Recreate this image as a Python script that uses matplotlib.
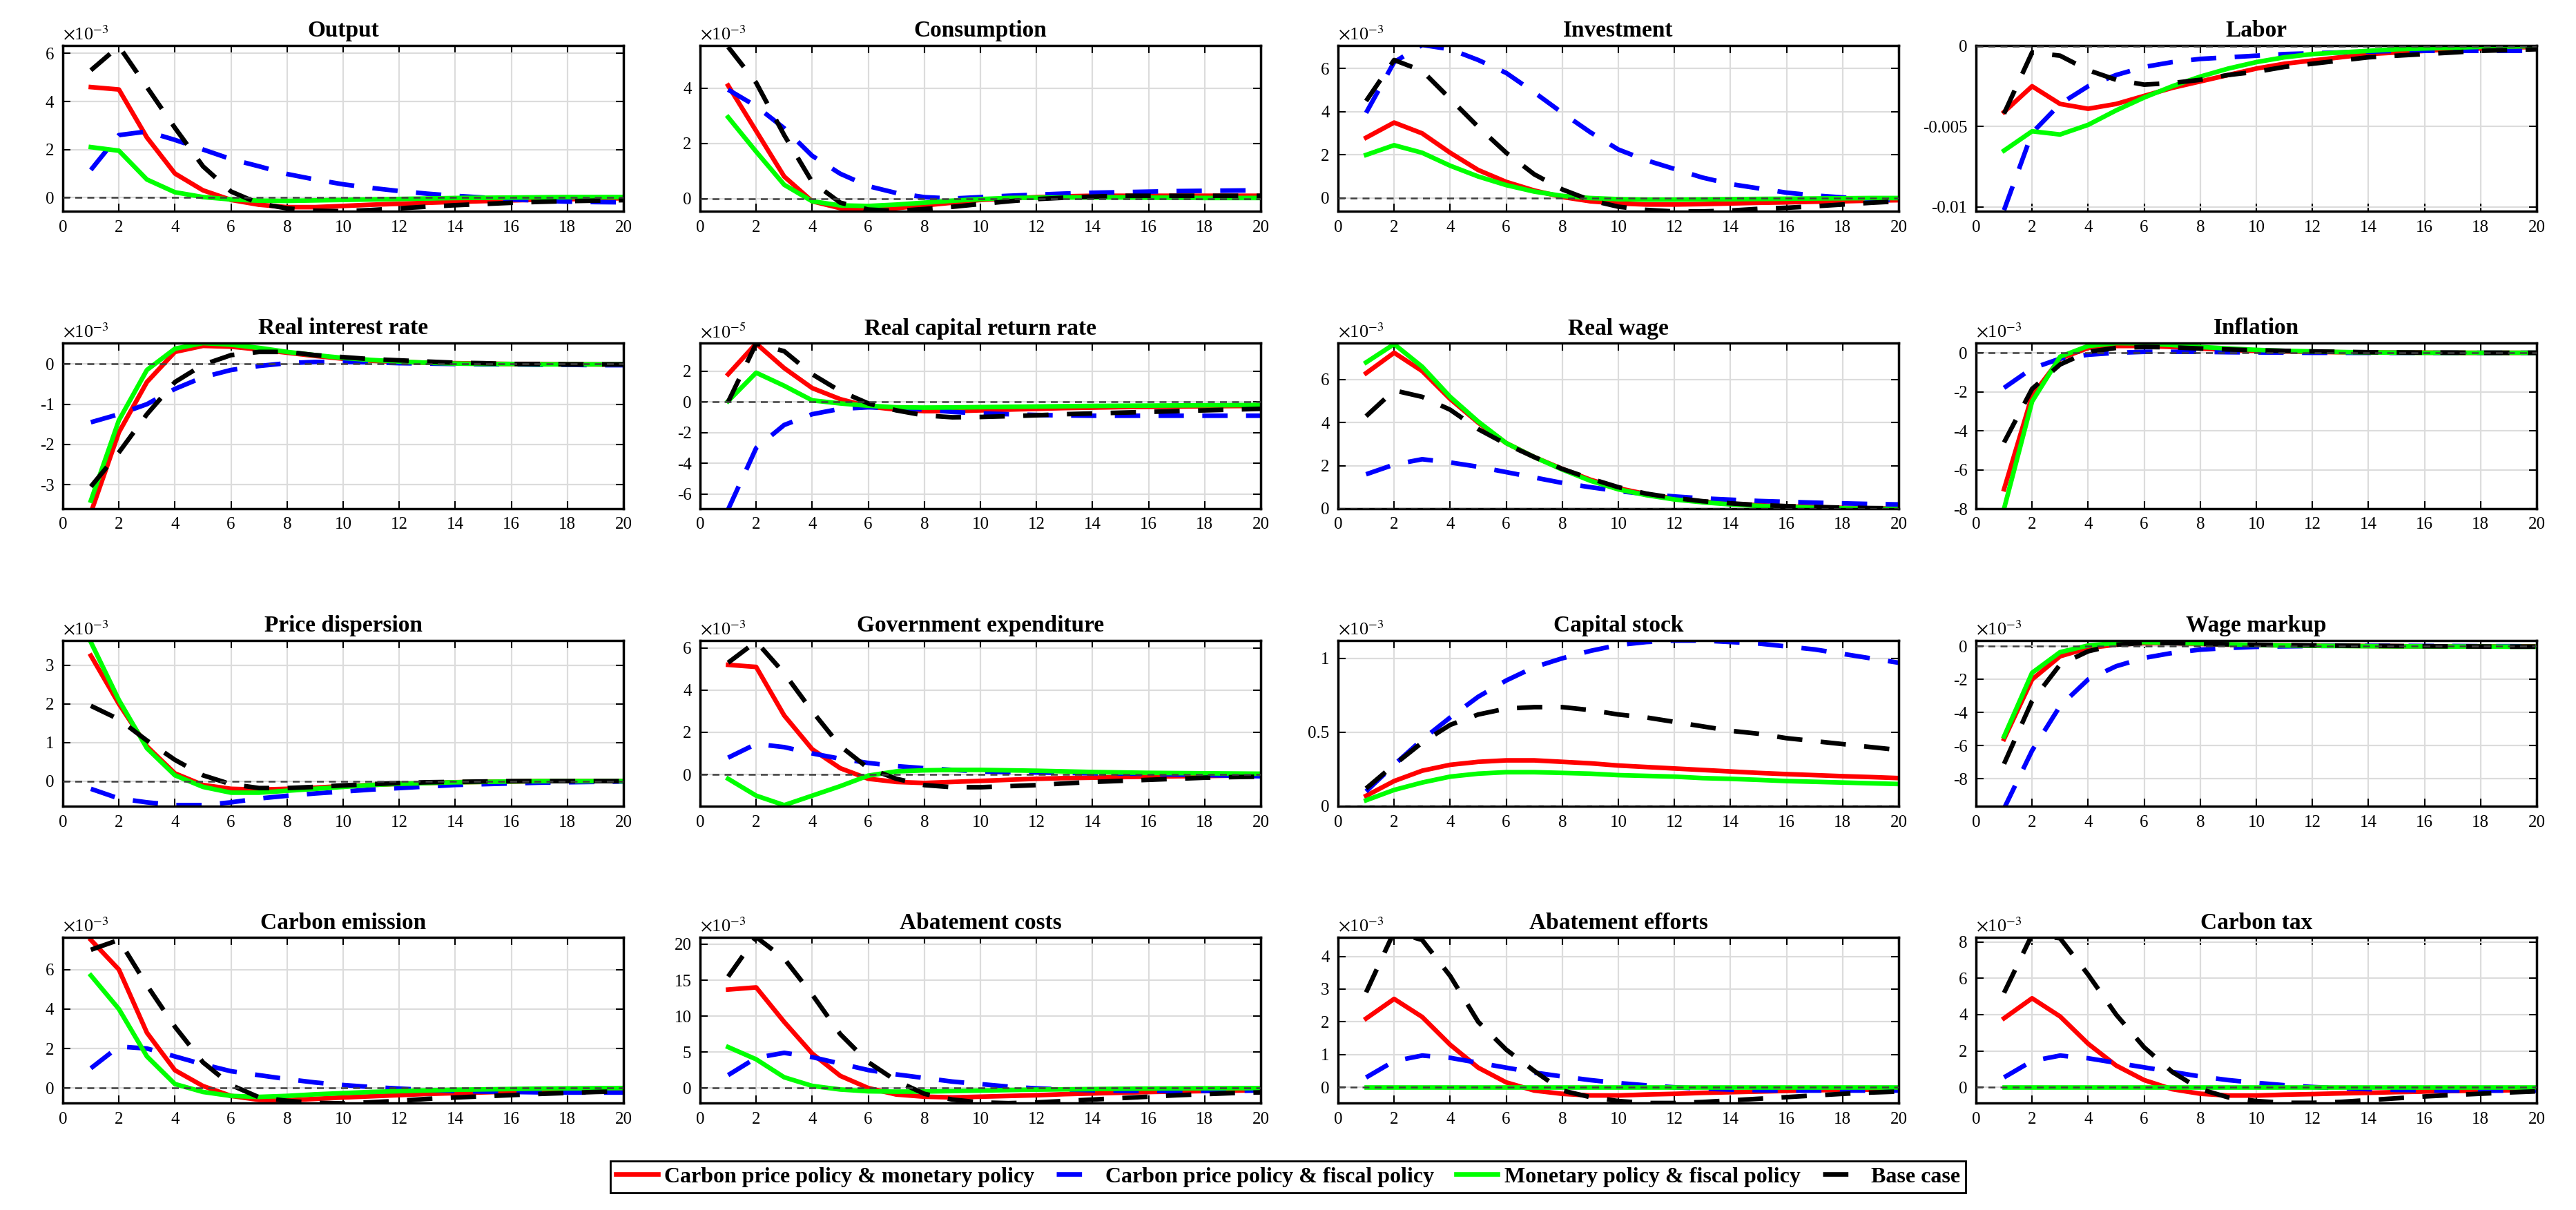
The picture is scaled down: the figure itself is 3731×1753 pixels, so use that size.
import matplotlib
matplotlib.use('Agg')
import matplotlib.pyplot as plt
from matplotlib.ticker import FuncFormatter, FixedLocator

plt.rcParams['font.family'] = ['Liberation Serif', 'DejaVu Serif']
plt.rcParams['mathtext.fontset'] = 'stix'
plt.rcParams['axes.unicode_minus'] = False

# ---------------- data ----------------
periods = list(range(1, 21))
series_names = ['Carbon price policy & monetary policy',
                'Carbon price policy & fiscal policy',
                'Monetary policy & fiscal policy',
                'Base case']

titles = ['Output', 'Consumption', 'Investment', 'Labor',
          'Real interest rate', 'Real capital return rate', 'Real wage', 'Inflation',
          'Price dispersion', 'Government expenditure', 'Capital stock', 'Wage markup',
          'Carbon emission', 'Abatement costs', 'Abatement efforts', 'Carbon tax']

# multiplier shown above each panel (None = no multiplier)
multipliers = ['-3', '-3', '-3', None,
               '-3', '-5', '-3', '-3',
               '-3', '-3', '-3', '-3',
               '-3', '-3', '-3', '-3']

y_limits = [(-0.57, 6.33), (-0.46, 5.55), (-0.61, 7.07), (-0.01027, 0.00003),
            (-3.6, 0.52), (-6.95, 3.83), (0, 7.7), (-8.0, 0.5),
            (-0.65, 3.64), (-1.5, 6.35), (0, 1.12), (-9.66, 0.35),
            (-0.76, 7.63), (-2.08, 20.96), (-0.48, 4.58), (-0.86, 8.25)]

y_ticks = [[0, 2, 4, 6], [0, 2, 4], [0, 2, 4, 6], [-0.01, -0.005, 0],
           [-3, -2, -1, 0], [-6, -4, -2, 0, 2], [0, 2, 4, 6], [-8, -6, -4, -2, 0],
           [0, 1, 2, 3], [0, 2, 4, 6], [0, 0.5, 1], [-8, -6, -4, -2, 0],
           [0, 2, 4, 6], [0, 5, 10, 15, 20], [0, 1, 2, 3, 4], [0, 2, 4, 6, 8]]

# Output (x1e-3)
output_cpm = [4.6, 4.5, 2.5, 1.0, 0.3, -0.1, -0.3, -0.4, -0.4, -0.35, -0.3, -0.26, -0.22, -0.18, -0.15, -0.12, -0.09, -0.07, -0.05, -0.03]
output_cpf = [1.15, 2.6, 2.75, 2.4, 2.0, 1.6, 1.3, 0.98, 0.75, 0.55, 0.4, 0.27, 0.16, 0.07, 0.0, -0.08, -0.13, -0.17, -0.19, -0.2]
output_mf = [2.1, 1.95, 0.75, 0.22, 0.02, -0.08, -0.13, -0.14, -0.12, -0.1, -0.08, -0.06, -0.04, -0.02, -0.01, 0.0, 0.01, 0.02, 0.02, 0.02]
output_base = [5.3, 6.3, 4.6, 2.9, 1.3, 0.25, -0.25, -0.45, -0.55, -0.57, -0.52, -0.45, -0.38, -0.32, -0.27, -0.22, -0.18, -0.15, -0.13, -0.11]

# Consumption (x1e-3)
cons_cpm = [4.1, 2.45, 0.8, -0.1, -0.35, -0.4, -0.35, -0.25, -0.15, -0.05, 0.0, 0.05, 0.08, 0.1, 0.1, 0.1, 0.1, 0.1, 0.1, 0.1]
cons_cpf = [3.95, 3.35, 2.55, 1.55, 0.9, 0.45, 0.2, 0.05, 0.0, 0.05, 0.1, 0.14, 0.18, 0.21, 0.23, 0.25, 0.27, 0.28, 0.29, 0.3]
cons_mf = [2.95, 1.7, 0.5, -0.1, -0.25, -0.27, -0.22, -0.15, -0.08, -0.02, 0.02, 0.03, 0.04, 0.04, 0.04, 0.03, 0.03, 0.02, 0.02, 0.02]
cons_base = [5.5, 4.2, 2.3, 0.6, -0.15, -0.4, -0.45, -0.38, -0.3, -0.2, -0.1, -0.02, 0.03, 0.07, 0.1, 0.1, 0.1, 0.1, 0.1, 0.1]

# Investment (x1e-3)
inv_cpm = [2.8, 3.5, 3.0, 2.1, 1.3, 0.75, 0.35, 0.05, -0.15, -0.25, -0.3, -0.3, -0.28, -0.25, -0.22, -0.2, -0.17, -0.15, -0.12, -0.1]
inv_cpf = [3.95, 6.3, 7.1, 6.9, 6.4, 5.8, 4.9, 3.95, 3.05, 2.25, 1.75, 1.35, 0.95, 0.65, 0.45, 0.25, 0.12, 0.03, -0.05, -0.1]
inv_mf = [2.0, 2.45, 2.1, 1.5, 1.0, 0.6, 0.3, 0.1, 0.0, -0.05, -0.07, -0.07, -0.06, -0.05, -0.04, -0.03, -0.02, -0.01, 0.0, 0.0]
inv_base = [4.5, 6.4, 5.9, 4.6, 3.3, 2.1, 1.1, 0.4, -0.1, -0.4, -0.55, -0.62, -0.62, -0.58, -0.5, -0.45, -0.38, -0.3, -0.22, -0.15]

# Labor (levels)
labor_cpm = [-0.0041, -0.0025, -0.0036, -0.0039, -0.0036, -0.0031, -0.0026, -0.0022, -0.0018, -0.0014, -0.0011, -0.0009, -0.0007, -0.0005, -0.0004, -0.0003, -0.0002, -0.00015, -0.0001, -0.00005]
labor_cpf = [-0.0102, -0.0054, -0.0036, -0.0025, -0.0018, -0.0013, -0.0010, -0.0008, -0.0007, -0.0006, -0.0005, -0.00045, -0.0004, -0.00035, -0.0003, -0.0003, -0.0003, -0.0003, -0.0003, -0.0003]
labor_mf = [-0.0065, -0.0053, -0.0055, -0.0049, -0.0040, -0.0032, -0.0025, -0.0019, -0.0014, -0.0010, -0.0007, -0.0005, -0.0004, -0.0003, -0.0002, -0.00015, -0.0001, -0.00005, -0.00003, 0.0]
labor_base = [-0.0042, -0.0004, -0.0006, -0.0015, -0.0021, -0.0024, -0.0023, -0.0021, -0.0018, -0.0016, -0.0013, -0.0011, -0.0009, -0.0007, -0.0006, -0.0005, -0.0004, -0.0003, -0.00025, -0.0002]

# Real interest rate (x1e-3)
rir_cpm = [-3.7, -1.7, -0.45, 0.3, 0.45, 0.43, 0.36, 0.28, 0.2, 0.13, 0.08, 0.05, 0.03, 0.02, 0.01, 0.0, 0.0, -0.01, -0.01, -0.02]
rir_cpf = [-1.45, -1.25, -1.0, -0.62, -0.33, -0.15, -0.05, 0.02, 0.05, 0.05, 0.04, 0.02, 0.01, 0.0, -0.01, -0.01, -0.02, -0.02, -0.03, -0.03]
rir_mf = [-3.4, -1.4, -0.15, 0.38, 0.52, 0.48, 0.4, 0.3, 0.22, 0.15, 0.1, 0.06, 0.03, 0.01, 0.0, 0.0, -0.01, -0.01, -0.01, -0.01]
rir_base = [-3.05, -2.2, -1.25, -0.45, -0.02, 0.22, 0.3, 0.3, 0.22, 0.17, 0.12, 0.09, 0.06, 0.03, 0.02, 0.0, 0.0, -0.01, -0.01, -0.01]

# Real capital return rate (x1e-5)
rk_cpm = [1.8, 3.8, 2.2, 0.9, 0.18, -0.3, -0.5, -0.6, -0.6, -0.55, -0.5, -0.45, -0.4, -0.37, -0.34, -0.32, -0.3, -0.28, -0.27, -0.26]
rk_cpf = [-7.0, -3.0, -1.5, -0.8, -0.45, -0.35, -0.4, -0.5, -0.65, -0.75, -0.8, -0.85, -0.88, -0.9, -0.9, -0.9, -0.9, -0.9, -0.9, -0.9]
rk_mf = [0.05, 1.9, 1.05, 0.1, -0.1, -0.25, -0.35, -0.37, -0.36, -0.34, -0.32, -0.3, -0.28, -0.26, -0.25, -0.24, -0.23, -0.22, -0.21, -0.2]
rk_base = [0.0, 3.8, 3.3, 1.8, 0.7, -0.1, -0.55, -0.88, -1.0, -0.98, -0.93, -0.87, -0.8, -0.75, -0.7, -0.65, -0.6, -0.55, -0.5, -0.45]

# Real wage (x1e-3)
wage_cpm = [6.3, 7.25, 6.4, 5.1, 4.0, 3.05, 2.4, 1.85, 1.35, 0.95, 0.68, 0.47, 0.33, 0.23, 0.16, 0.11, 0.07, 0.04, 0.02, 0.01]
wage_cpf = [1.6, 2.05, 2.3, 2.15, 1.95, 1.7, 1.45, 1.2, 1.0, 0.82, 0.68, 0.57, 0.48, 0.42, 0.36, 0.32, 0.28, 0.25, 0.22, 0.2]
wage_mf = [6.8, 7.65, 6.6, 5.2, 4.05, 3.05, 2.4, 1.82, 1.3, 0.9, 0.63, 0.43, 0.3, 0.2, 0.13, 0.08, 0.04, 0.02, 0.0, -0.02]
wage_base = [4.3, 5.5, 5.2, 4.6, 3.7, 3.0, 2.4, 1.85, 1.4, 1.0, 0.7, 0.5, 0.35, 0.25, 0.17, 0.12, 0.08, 0.05, 0.03, 0.02]

# Inflation (x1e-3)
infl_cpm = [-7.0, -2.2, -0.3, 0.25, 0.35, 0.35, 0.3, 0.22, 0.15, 0.1, 0.07, 0.05, 0.03, 0.02, 0.01, 0.01, 0.0, 0.0, 0.0, 0.0]
infl_cpf = [-1.8, -0.8, -0.3, -0.1, 0.0, 0.05, 0.05, 0.05, 0.03, 0.02, 0.01, 0.0, 0.0, 0.0, 0.0, 0.0, 0.0, 0.0, 0.0, 0.0]
infl_mf = [-8.0, -2.5, -0.2, 0.35, 0.5, 0.48, 0.4, 0.3, 0.22, 0.15, 0.1, 0.07, 0.04, 0.02, 0.01, 0.0, 0.0, 0.0, 0.0, 0.0]
infl_base = [-4.6, -1.85, -0.6, 0.05, 0.25, 0.3, 0.28, 0.22, 0.17, 0.13, 0.1, 0.07, 0.05, 0.03, 0.02, 0.01, 0.01, 0.0, 0.0, 0.0]

# Price dispersion (x1e-3)
pd_cpm = [3.25, 2.0, 0.9, 0.2, -0.1, -0.2, -0.22, -0.2, -0.17, -0.13, -0.1, -0.07, -0.05, -0.03, -0.02, -0.01, 0.0, 0.0, 0.0, 0.0]
pd_cpf = [-0.2, -0.45, -0.55, -0.62, -0.62, -0.55, -0.45, -0.38, -0.32, -0.27, -0.22, -0.18, -0.14, -0.1, -0.08, -0.06, -0.04, -0.03, -0.02, -0.01]
pd_mf = [3.6, 2.1, 0.85, 0.15, -0.15, -0.3, -0.3, -0.25, -0.2, -0.15, -0.1, -0.07, -0.05, -0.03, -0.02, -0.01, 0.0, 0.0, 0.0, 0.0]
pd_base = [1.95, 1.6, 1.05, 0.55, 0.15, -0.08, -0.18, -0.18, -0.15, -0.11, -0.08, -0.05, -0.03, -0.02, -0.01, 0.0, 0.0, 0.0, 0.0, 0.0]

# Government expenditure (x1e-3)
gov_cpm = [5.2, 5.1, 2.8, 1.2, 0.3, -0.2, -0.35, -0.4, -0.35, -0.3, -0.25, -0.2, -0.17, -0.15, -0.12, -0.1, -0.08, -0.07, -0.05, -0.04]
gov_cpf = [0.8, 1.45, 1.3, 1.0, 0.75, 0.55, 0.4, 0.3, 0.22, 0.15, 0.12, 0.1, 0.08, 0.06, 0.05, 0.03, 0.0, -0.03, -0.05, -0.08]
gov_mf = [-0.2, -1.0, -1.45, -1.0, -0.55, -0.05, 0.15, 0.2, 0.22, 0.22, 0.2, 0.18, 0.15, 0.12, 0.1, 0.08, 0.07, 0.06, 0.05, 0.04]
gov_base = [5.3, 6.3, 4.8, 3.0, 1.35, 0.3, -0.2, -0.5, -0.6, -0.6, -0.55, -0.5, -0.42, -0.35, -0.3, -0.25, -0.2, -0.15, -0.12, -0.1]

# Capital stock (x1e-3)
cap_cpm = [0.07, 0.17, 0.24, 0.28, 0.3, 0.31, 0.31, 0.30, 0.29, 0.275, 0.265, 0.255, 0.245, 0.235, 0.225, 0.217, 0.21, 0.203, 0.197, 0.19]
cap_cpf = [0.1, 0.28, 0.45, 0.6, 0.74, 0.85, 0.94, 1.0, 1.05, 1.09, 1.11, 1.12, 1.12, 1.11, 1.1, 1.08, 1.06, 1.03, 1.0, 0.97]
cap_mf = [0.04, 0.11, 0.16, 0.2, 0.22, 0.23, 0.23, 0.225, 0.22, 0.21, 0.205, 0.2, 0.19, 0.185, 0.178, 0.17, 0.165, 0.16, 0.155, 0.15]
cap_base = [0.12, 0.28, 0.43, 0.55, 0.62, 0.66, 0.67, 0.67, 0.65, 0.62, 0.6, 0.57, 0.54, 0.51, 0.49, 0.46, 0.44, 0.42, 0.4, 0.38]

# Wage markup (x1e-3)
wm_cpm = [-5.6, -2.0, -0.6, -0.1, 0.1, 0.2, 0.2, 0.15, 0.1, 0.08, 0.06, 0.04, 0.03, 0.02, 0.01, 0.0, 0.0, 0.0, 0.0, 0.0]
wm_cpf = [-9.8, -6.3, -3.6, -2.0, -1.2, -0.7, -0.4, -0.2, -0.1, -0.03, 0.0, 0.02, 0.03, 0.03, 0.03, 0.02, 0.02, 0.01, 0.01, 0.0]
wm_mf = [-5.45, -1.6, -0.35, 0.05, 0.2, 0.25, 0.22, 0.17, 0.12, 0.08, 0.05, 0.03, 0.02, 0.01, 0.0, 0.0, -0.01, -0.01, -0.02, -0.02]
wm_base = [-7.1, -3.3, -1.1, -0.3, 0.1, 0.2, 0.2, 0.15, 0.12, 0.1, 0.08, 0.06, 0.04, 0.03, 0.02, 0.01, 0.0, -0.01, -0.02, -0.02]

# Carbon emission (x1e-3)
ce_cpm = [7.5, 6.0, 2.8, 0.9, 0.1, -0.4, -0.6, -0.62, -0.55, -0.48, -0.42, -0.36, -0.3, -0.26, -0.22, -0.18, -0.15, -0.13, -0.11, -0.1]
ce_cpf = [1.0, 2.1, 2.0, 1.6, 1.2, 0.85, 0.65, 0.45, 0.28, 0.15, 0.05, -0.03, -0.1, -0.15, -0.18, -0.2, -0.22, -0.23, -0.23, -0.23]
ce_mf = [5.7, 4.0, 1.6, 0.2, -0.2, -0.4, -0.45, -0.4, -0.32, -0.26, -0.2, -0.16, -0.12, -0.09, -0.07, -0.05, -0.03, -0.02, -0.01, 0.0]
ce_base = [7.0, 7.5, 5.2, 3.1, 1.3, 0.15, -0.47, -0.65, -0.75, -0.78, -0.72, -0.65, -0.55, -0.48, -0.42, -0.36, -0.3, -0.25, -0.2, -0.17]

# Abatement costs (x1e-3)
ac_cpm = [13.7, 14.0, 9.2, 4.8, 1.7, 0.0, -0.9, -1.2, -1.3, -1.2, -1.1, -1.0, -0.85, -0.75, -0.65, -0.55, -0.48, -0.42, -0.36, -0.3]
ac_cpf = [1.8, 4.2, 4.9, 4.3, 3.4, 2.5, 1.9, 1.4, 0.9, 0.55, 0.2, -0.05, -0.2, -0.3, -0.38, -0.4, -0.42, -0.4, -0.38, -0.35]
ac_mf = [5.7, 4.0, 1.5, 0.3, -0.2, -0.45, -0.5, -0.48, -0.42, -0.35, -0.28, -0.22, -0.18, -0.14, -0.1, -0.07, -0.05, -0.03, -0.02, -0.01]
ac_base = [15.5, 21.0, 18.0, 13.0, 7.5, 3.6, 1.0, -0.8, -1.6, -2.0, -2.1, -2.0, -1.8, -1.6, -1.4, -1.2, -1.0, -0.85, -0.7, -0.6]

# Abatement efforts (x1e-3)
ae_cpm = [2.1, 2.7, 2.15, 1.3, 0.6, 0.15, -0.1, -0.2, -0.25, -0.25, -0.22, -0.2, -0.17, -0.15, -0.13, -0.11, -0.09, -0.08, -0.07, -0.06]
ae_cpf = [0.3, 0.8, 0.97, 0.9, 0.75, 0.6, 0.45, 0.33, 0.22, 0.13, 0.06, 0.0, -0.04, -0.07, -0.09, -0.1, -0.1, -0.1, -0.1, -0.1]
ae_mf = [0.0] * 20
ae_base = [2.9, 4.75, 4.5, 3.4, 2.0, 1.15, 0.5, -0.1, -0.3, -0.42, -0.48, -0.48, -0.45, -0.4, -0.35, -0.3, -0.25, -0.2, -0.16, -0.13]

# Carbon tax (x1e-3)
ct_cpm = [3.8, 4.9, 3.9, 2.4, 1.2, 0.4, -0.1, -0.35, -0.45, -0.45, -0.4, -0.37, -0.33, -0.3, -0.26, -0.23, -0.2, -0.18, -0.16, -0.14]
ct_cpf = [0.55, 1.45, 1.75, 1.6, 1.35, 1.1, 0.85, 0.6, 0.4, 0.25, 0.12, 0.02, -0.05, -0.1, -0.14, -0.16, -0.18, -0.18, -0.18, -0.18]
ct_mf = [0.0] * 20
ct_base = [5.2, 8.4, 8.2, 6.2, 4.0, 2.2, 0.85, -0.1, -0.55, -0.75, -0.85, -0.85, -0.8, -0.7, -0.6, -0.5, -0.42, -0.35, -0.28, -0.22]

panel_series = [
    (output_cpm, output_cpf, output_mf, output_base),
    (cons_cpm, cons_cpf, cons_mf, cons_base),
    (inv_cpm, inv_cpf, inv_mf, inv_base),
    (labor_cpm, labor_cpf, labor_mf, labor_base),
    (rir_cpm, rir_cpf, rir_mf, rir_base),
    (rk_cpm, rk_cpf, rk_mf, rk_base),
    (wage_cpm, wage_cpf, wage_mf, wage_base),
    (infl_cpm, infl_cpf, infl_mf, infl_base),
    (pd_cpm, pd_cpf, pd_mf, pd_base),
    (gov_cpm, gov_cpf, gov_mf, gov_base),
    (cap_cpm, cap_cpf, cap_mf, cap_base),
    (wm_cpm, wm_cpf, wm_mf, wm_base),
    (ce_cpm, ce_cpf, ce_mf, ce_base),
    (ac_cpm, ac_cpf, ac_mf, ac_base),
    (ae_cpm, ae_cpf, ae_mf, ae_base),
    (ct_cpm, ct_cpf, ct_mf, ct_base),
]

# ---------------- styling / layout ----------------
W, H = 3731, 1753
fig = plt.figure(figsize=(W / 100, H / 100), dpi=100)

col_left = [91, 1014, 1938, 2862]
row_top = [66, 497, 928, 1358]
ax_w, ax_h = 812, 240

LW = 4.8
styles = [dict(color=(1, 0, 0), lw=LW, ls='-'),
          dict(color=(0, 0, 1), lw=LW, ls=(0, (5.5, 4))),
          dict(color=(0, 1, 0), lw=LW, ls='-'),
          dict(color='k', lw=LW, ls=(0, (5.5, 4)))]

fmt = FuncFormatter(lambda v, p: '%g' % v)
handles = []
for i, title in enumerate(titles):
    r, c = divmod(i, 4)
    ax = fig.add_axes([col_left[c] / W, 1 - (row_top[r] + ax_h) / H, ax_w / W, ax_h / H])
    for k, (ys, st) in enumerate(zip(panel_series[i], styles)):
        ln, = ax.plot(periods, ys, label=series_names[k], **st)
        if i == 0:
            handles.append(ln)
    ax.axhline(0, color='0.25', lw=1.8, ls=(0, (4, 3)), zorder=5)
    ax.set_xlim(0, 20)
    ax.set_ylim(*y_limits[i])
    ax.xaxis.set_major_locator(FixedLocator(list(range(0, 21, 2))))
    ax.yaxis.set_major_locator(FixedLocator(y_ticks[i]))
    ax.xaxis.set_major_formatter(fmt)
    ax.yaxis.set_major_formatter(fmt)
    ax.grid(True, color='#dcdcdc', lw=1.6)
    ax.set_axisbelow(True)
    ax.tick_params(direction='in', length=8, width=1.5, top=True, right=True,
                   labelsize=18, pad=9)
    for s in ax.spines.values():
        s.set_linewidth(2.5)
    ax.set_title(title, fontsize=24, fontweight='bold', pad=9)
    if multipliers[i] is not None:
        ax.text(0.0, 1.012, r'$\times$10$^{%s}$' % multipliers[i], transform=ax.transAxes,
                ha='left', va='bottom', fontsize=19)

fig.legend(handles, series_names, loc='center', bbox_to_anchor=(0.5, 0.0274), ncol=4,
           frameon=True, fancybox=False, edgecolor='k', framealpha=1,
           prop={'size': 23, 'weight': 'bold'}, handlelength=1.9, handletextpad=0.3,
           columnspacing=1.0, borderpad=0.25)
fig.legends[0].get_frame().set_linewidth(2)

fig.savefig('out.png', dpi=100)
